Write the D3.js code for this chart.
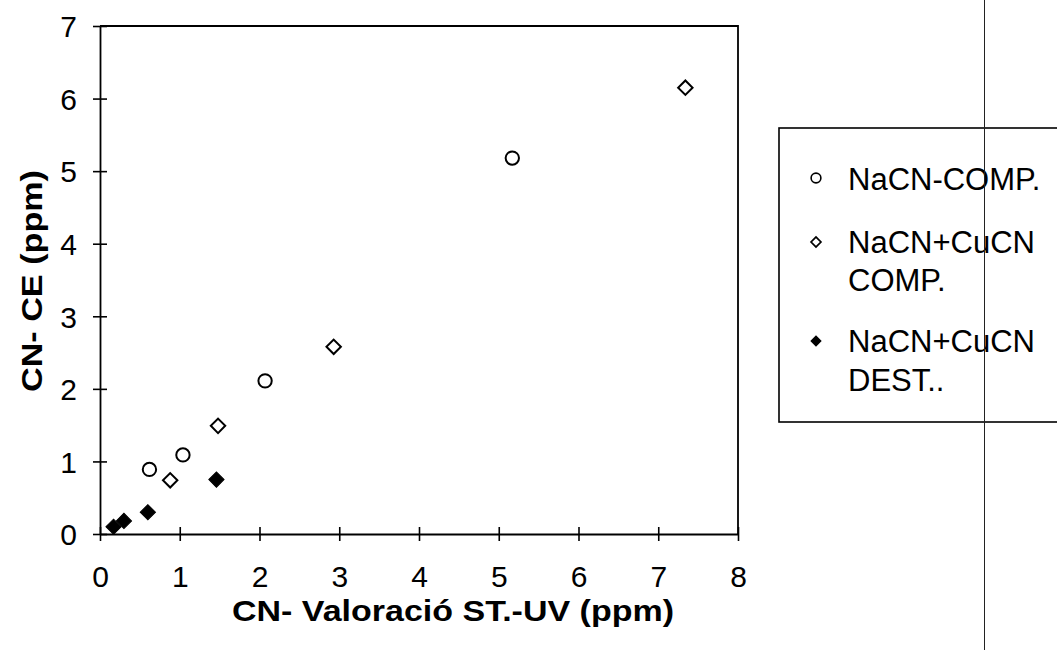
<!DOCTYPE html>
<html>
<head>
<meta charset="utf-8">
<script src="https://cdn.jsdelivr.net/npm/d3@7"></script>
<style>
  html, body { margin: 0; padding: 0; background: #fff; }
  svg { display: block; }
  text { font-family: "Liberation Sans", Arial, sans-serif; fill: #000; }
</style>
</head>
<body>
<svg id="chart" width="1057" height="650"></svg>
<script>
// CN- measured by capillary electrophoresis vs. ST.-UV titration (ppm)
const seriesNames = ["NaCN-COMP.", "NaCN+CuCN COMP.", "NaCN+CuCN DEST.."];

const nacnCompX = [0.62, 1.04, 2.07, 5.17];
const nacnCompY = [0.89, 1.09, 2.11, 5.18];

const cucnCompX = [0.88, 1.48, 2.93, 7.34];
const cucnCompY = [0.74, 1.49, 2.58, 6.15];

const cucnDestX = [0.17, 0.30, 0.60, 1.46];
const cucnDestY = [0.10, 0.18, 0.30, 0.75];

const xTicks = [0, 1, 2, 3, 4, 5, 6, 7, 8];
const yTicks = [0, 1, 2, 3, 4, 5, 6, 7];

const svg = d3.select("#chart");

const plot = { left: 100, right: 738, top: 26, bottom: 534 };

const x = d3.scaleLinear().domain([0, 8]).range([plot.left, plot.right]);
const y = d3.scaleLinear().domain([0, 7]).range([plot.bottom, plot.top]);

// frame: top and right edges
svg.append("path")
  .attr("d", `M${plot.left},${plot.top}H${plot.right}V${plot.bottom}`)
  .attr("fill", "none").attr("stroke", "#000").attr("stroke-width", 1.8);

// axes with ticks crossing the axis line
const xAxis = svg.append("g").attr("transform", `translate(0,${plot.bottom})`)
  .call(d3.axisBottom(x).tickValues(xTicks).tickSize(7).tickSizeOuter(0).tickFormat(d3.format("d")));
xAxis.selectAll(".tick line").attr("y1", -7).attr("y2", 7);
xAxis.selectAll("text").attr("y", 53).attr("dy", 0)
  .style("font-size", "30px").style("font-family", "'Liberation Sans', Arial, sans-serif");

const yAxis = svg.append("g").attr("transform", `translate(${plot.left},0)`)
  .call(d3.axisLeft(y).tickValues(yTicks).tickSize(7).tickSizeOuter(0).tickFormat(d3.format("d")));
yAxis.selectAll(".tick line").attr("x1", -7).attr("x2", 7);
yAxis.selectAll("text").attr("x", -23).attr("dy", "0.36em")
  .style("font-size", "30px").style("font-family", "'Liberation Sans', Arial, sans-serif");

svg.selectAll(".domain").attr("stroke", "#000").attr("stroke-width", 1.8);
svg.selectAll(".tick line").attr("stroke", "#000").attr("stroke-width", 1.6);

// axis titles
svg.append("text")
  .attr("x", 453).attr("y", 621)
  .attr("text-anchor", "middle")
  .attr("textLength", 442).attr("lengthAdjust", "spacingAndGlyphs")
  .style("font-size", "30px").style("font-weight", "bold")
  .text("CN- Valoració ST.-UV (ppm)");

svg.append("text")
  .attr("transform", "translate(42,281) rotate(-90)")
  .attr("text-anchor", "middle")
  .attr("textLength", 222).attr("lengthAdjust", "spacingAndGlyphs")
  .style("font-size", "30px").style("font-weight", "bold")
  .text("CN- CE (ppm)");

// markers
const circleSym = d3.symbol().type(d3.symbolCircle).size(140);
const openDiamond = d3.symbol().type(d3.symbolSquare).size(104);
const fillDiamond = d3.symbol().type(d3.symbolSquare).size(116);

const zip = (xs, ys) => xs.map((v, i) => ({ x: v, y: ys[i] }));

svg.append("g").selectAll("path").data(zip(nacnCompX, nacnCompY)).join("path")
  .attr("d", circleSym)
  .attr("transform", d => `translate(${x(d.x)},${y(d.y)})`)
  .attr("fill", "#fff").attr("stroke", "#000").attr("stroke-width", 2);

svg.append("g").selectAll("path").data(zip(cucnCompX, cucnCompY)).join("path")
  .attr("d", openDiamond)
  .attr("transform", d => `translate(${x(d.x)},${y(d.y)}) rotate(45)`)
  .attr("fill", "#fff").attr("stroke", "#000").attr("stroke-width", 2);

svg.append("g").selectAll("path").data(zip(cucnDestX, cucnDestY)).join("path")
  .attr("d", fillDiamond)
  .attr("transform", d => `translate(${x(d.x)},${y(d.y)}) rotate(45)`)
  .attr("fill", "#000").attr("stroke", "#000").attr("stroke-width", 1);

// legend
const legend = svg.append("g");
legend.append("rect")
  .attr("x", 779).attr("y", 128).attr("width", 300).attr("height", 294)
  .attr("fill", "#fff").attr("stroke", "#000").attr("stroke-width", 1.6);

const legendRows = [
  { sym: "circle", lines: [seriesNames[0]], my: 178, base: [190] },
  { sym: "open", lines: ["NaCN+CuCN", "COMP."], my: 242, base: [253, 291] },
  { sym: "fill", lines: ["NaCN+CuCN", "DEST.."], my: 341, base: [352, 391] }
];

legendRows.forEach(r => {
  const m = legend.append("path").attr("stroke", "#000");
  if (r.sym === "circle") {
    m.attr("d", d3.symbol().type(d3.symbolCircle).size(75)())
      .attr("transform", `translate(816,${r.my})`)
      .attr("fill", "#fff").attr("stroke-width", 1.6);
  } else {
    m.attr("d", d3.symbol().type(d3.symbolSquare).size(50)())
      .attr("transform", `translate(816,${r.my}) rotate(45)`)
      .attr("fill", r.sym === "fill" ? "#000" : "#fff")
      .attr("stroke-width", r.sym === "fill" ? 1 : 1.6);
  }
  r.lines.forEach((t, i) => {
    legend.append("text")
      .attr("x", 848).attr("y", r.base[i])
      .style("font-size", "31px")
      .text(t);
  });
});

// fold line running down the right side of the page
svg.append("line")
  .attr("x1", 984.5).attr("x2", 984.5).attr("y1", 0).attr("y2", 650)
  .attr("stroke", "#222").attr("stroke-width", 1);
</script>
</body>
</html>
